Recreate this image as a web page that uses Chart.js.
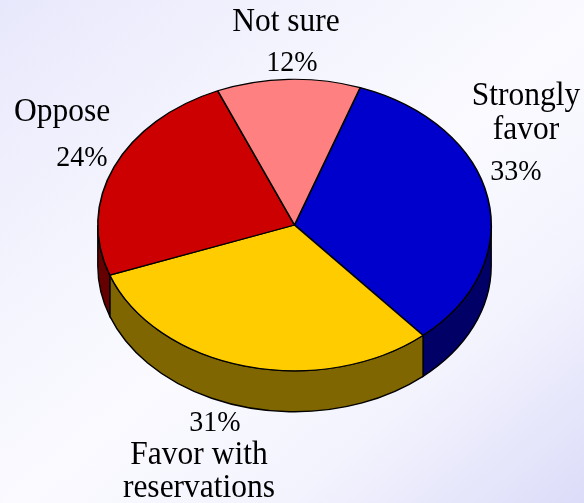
<!DOCTYPE html>
<html>
<head>
<meta charset="utf-8">
<title>Pie</title>
<script src="https://cdn.jsdelivr.net/npm/chart.js@4/dist/chart.umd.min.js"></script>
<style>
  html, body { margin: 0; padding: 0; }
  body {
    width: 584px;
    height: 503px;
    overflow: hidden;
    background: linear-gradient(140deg, #e8e8fc 0%, #f4f4fe 30%, #fafaff 52%, #f3f3fe 75%, #dcdcf9 100%);
  }
  canvas { display: block; }
</style>
</head>
<body>
<canvas id="myChart" width="584" height="503"></canvas>
<script>
const categories = ["Strongly favor", "Favor with reservations", "Oppose", "Not sure"];
// the printed labels round these
const values = [33.25, 30.75, 24.2, 11.8];
const topColors = ["#0000cc", "#ffcc00", "#cc0000", "#ff8080"];
const sideColors = ["#000066", "#806600", "#660000", "#804040"];

// text lines next to each slice: [text, center x, baseline y, font px]
const labelLayout = [
  [["Strongly", 526, 105, 31.5], ["favor", 526, 139, 31.5], ["33%", 516, 180, 28]],
  [["31%", 215, 431, 28], ["Favor with", 199, 464, 31.5], ["reservations", 199, 497, 31.5]],
  [["Oppose", 62, 121, 31.5], ["24%", 82, 166, 28]],
  [["Not sure", 286, 31, 31.5], ["12%", 292, 71, 28]],
];

const squash = 146 / 197; // flatten circle to the tilted ellipse
const depth = 41;
const textStretch = 1.06; // the original text is a bit taller than wide

const tilted = {
  id: "tilted",
  beforeDatasetsDraw(chart) {
    const ctx = chart.ctx;
    const arcs = chart.getDatasetMeta(0).data;
    const cx = arcs[0].x;
    const cy = arcs[0].y;
    const rx = arcs[0].outerRadius;
    const ry = rx * squash;

    // side wall, only the front half of the ellipse shows
    ctx.save();
    ctx.strokeStyle = "#000";
    ctx.lineWidth = 1.4;
    arcs.forEach((arc, i) => {
      const a0 = Math.max(arc.startAngle, 0);
      const a1 = Math.min(arc.endAngle, Math.PI);
      if (a1 <= a0) return;
      ctx.beginPath();
      ctx.ellipse(cx, cy, rx, ry, 0, a0, a1);
      ctx.ellipse(cx, cy + depth, rx, ry, 0, a1, a0, true);
      ctx.closePath();
      ctx.fillStyle = sideColors[i];
      ctx.fill();
      ctx.stroke();
    });
    ctx.restore();

    // top face goes through the normal arc drawing, just squashed
    ctx.save();
    ctx.translate(cx, cy);
    ctx.scale(1, squash);
    ctx.translate(-cx, -cy);
  },
  afterDatasetsDraw(chart) {
    const ctx = chart.ctx;
    ctx.restore();

    ctx.save();
    ctx.fillStyle = "#000";
    ctx.textAlign = "center";
    ctx.textBaseline = "alphabetic";
    labelLayout.forEach((lines) => {
      lines.forEach(([text, x, y, size]) => {
        ctx.save();
        ctx.translate(x, y);
        ctx.scale(1, textStretch);
        ctx.font = size + 'px "Liberation Serif"';
        ctx.fillText(text, 0, 0);
        ctx.restore();
      });
    });
    ctx.restore();
  },
};

new Chart(document.getElementById("myChart"), {
  type: "pie",
  data: {
    labels: categories,
    datasets: [
      {
        data: values,
        backgroundColor: topColors,
        borderColor: "#000",
        borderWidth: 1.6,
        clip: false,
      },
    ],
  },
  options: {
    responsive: false,
    animation: false,
    events: [],
    rotation: 19.5,
    layout: { padding: { left: 97, right: 92, top: 27.5, bottom: 80.5 } },
    plugins: {
      legend: { display: false },
      title: { display: false },
      tooltip: { enabled: false },
    },
  },
  plugins: [tilted],
});
</script>
</body>
</html>
